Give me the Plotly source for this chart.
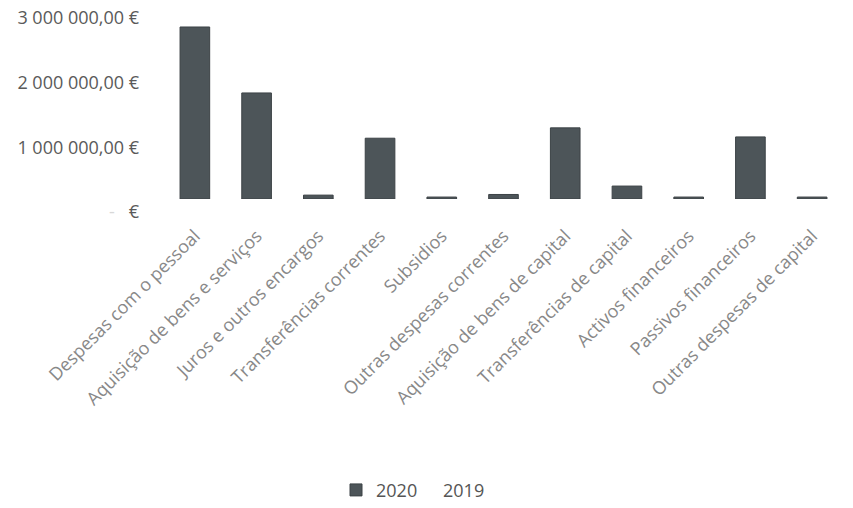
import plotly.graph_objects as go

categories = [
    "Despesas com o pessoal",
    "Aquisição de bens e serviços",
    "Juros e outros encargos",
    "Transferências correntes",
    "Subsidios",
    "Outras despesas correntes",
    "Aquisição de bens de capital",
    "Transferências de capital",
    "Activos financeiros",
    "Passivos financeiros",
    "Outras despesas de capital",
]
values_2020 = [2660000, 1640000, 60000, 940000, 30000, 70000, 1100000, 200000, 30000, 960000, 30000]
values_2019 = [None, None, None, None, None, None, None, None, None, None, None]

tick_vals = [0, 1000000, 2000000, 3000000]
tick_text = ["<span style='color:#d8d8d8'>-</span>   €", "1 000 000,00 €", "2 000 000,00 €", "3 000 000,00 €"]

fig = go.Figure()
fig.add_trace(go.Bar(
    x=categories, y=values_2020, name="2020", legend="legend",
    marker=dict(color="#4d5559", line=dict(color="#3c4246", width=1)),
))
fig.add_trace(go.Bar(
    x=categories, y=values_2019, name="2019", legend="legend2",
    marker=dict(color="rgba(255,255,255,0)", line=dict(width=0)),
))

legend_common = dict(
    orientation="h", xref="container", yref="container",
    xanchor="left", y=0.035, yanchor="middle",
    font=dict(size=18, color="#555555"), itemwidth=30,
    bgcolor="rgba(0,0,0,0)",
)

fig.update_layout(
    width=853, height=508,
    margin=dict(l=164, r=10, t=5, b=309),
    paper_bgcolor="white", plot_bgcolor="white",
    barmode="overlay", bargap=0.52,
    font=dict(family="Open Sans, Lato, sans-serif", size=18, color="#5a5a5a"),
    showlegend=True,
    legend=dict(x=336 / 853, **legend_common),
    legend2=dict(x=403 / 853, **legend_common),
    xaxis=dict(
        tickangle=-45, showgrid=False, zeroline=False, showline=False,
        ticks="", tickfont=dict(size=18, color="#888888"),
        ticklabelstandoff=22, range=[-0.5, 10.5],
    ),
    yaxis=dict(
        range=[0, 3000000], tickvals=tick_vals, ticktext=tick_text,
        showgrid=False, zeroline=False, showline=False, ticks="",
        tickfont=dict(size=18, color="#5a5a5a"),
        ticklabelshift=13, ticklabelstandoff=24,
    ),
)

fig.write_html("out.html")
